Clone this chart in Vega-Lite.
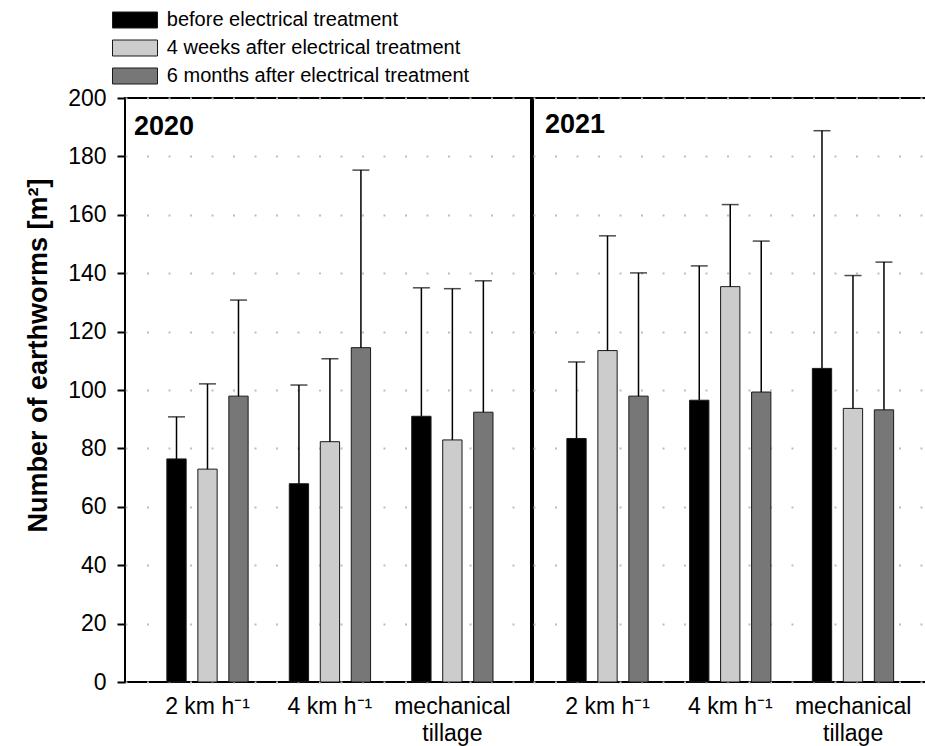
{
  "$schema": "https://vega.github.io/schema/vega-lite/v6.json",
  "autosize": {"type": "pad"},
  "padding": {"left": 22, "top": 10, "right": 0, "bottom": 0},
  "background": "white",
  "config": {
    "font": "Liberation Sans",
    "view": {"stroke": "black", "strokeWidth": 2},
    "concat": {"spacing": 0},
    "axis": {"labelColor": "black", "labelFont": "Liberation Sans"}
  },
  "data": {
    "values": [
      {"year": 2020, "treatment": "2 km h⁻¹", "period": "before electrical treatment", "value": 76.4, "upper": 90.8},
      {"year": 2020, "treatment": "2 km h⁻¹", "period": "4 weeks after electrical treatment", "value": 72.9, "upper": 102.1},
      {"year": 2020, "treatment": "2 km h⁻¹", "period": "6 months after electrical treatment", "value": 97.9, "upper": 130.8},
      {"year": 2020, "treatment": "4 km h⁻¹", "period": "before electrical treatment", "value": 67.9, "upper": 101.7},
      {"year": 2020, "treatment": "4 km h⁻¹", "period": "4 weeks after electrical treatment", "value": 82.3, "upper": 110.7},
      {"year": 2020, "treatment": "4 km h⁻¹", "period": "6 months after electrical treatment", "value": 114.5, "upper": 175.3},
      {"year": 2020, "treatment": "mechanical tillage", "period": "before electrical treatment", "value": 91.0, "upper": 135.0},
      {"year": 2020, "treatment": "mechanical tillage", "period": "4 weeks after electrical treatment", "value": 82.9, "upper": 134.7},
      {"year": 2020, "treatment": "mechanical tillage", "period": "6 months after electrical treatment", "value": 92.4, "upper": 137.4},
      {"year": 2021, "treatment": "2 km h⁻¹", "period": "before electrical treatment", "value": 83.4, "upper": 109.6},
      {"year": 2021, "treatment": "2 km h⁻¹", "period": "4 weeks after electrical treatment", "value": 113.5, "upper": 152.8},
      {"year": 2021, "treatment": "2 km h⁻¹", "period": "6 months after electrical treatment", "value": 97.9, "upper": 140.1},
      {"year": 2021, "treatment": "4 km h⁻¹", "period": "before electrical treatment", "value": 96.5, "upper": 142.5},
      {"year": 2021, "treatment": "4 km h⁻¹", "period": "4 weeks after electrical treatment", "value": 135.4, "upper": 163.5},
      {"year": 2021, "treatment": "4 km h⁻¹", "period": "6 months after electrical treatment", "value": 99.3, "upper": 151.0},
      {"year": 2021, "treatment": "mechanical tillage", "period": "before electrical treatment", "value": 107.4, "upper": 188.8},
      {"year": 2021, "treatment": "mechanical tillage", "period": "4 weeks after electrical treatment", "value": 93.7, "upper": 139.2},
      {"year": 2021, "treatment": "mechanical tillage", "period": "6 months after electrical treatment", "value": 93.2, "upper": 143.8}
    ]
  },
  "hconcat": [
    {
      "width": 406,
      "height": 584,
      "title": {"text": "2020", "anchor": "start", "frame": "group", "dx": 9, "dy": 58, "fontSize": 27, "fontWeight": "bold", "color": "black", "font": "Liberation Sans"},
      "transform": [{"filter": "datum.year == 2020"}],
      "encoding": {
        "x": {
          "field": "treatment", "type": "nominal",
          "sort": ["2 km h⁻¹", "4 km h⁻¹", "mechanical tillage"],
          "scale": {"paddingInner": 0, "paddingOuter": 0.158, "align": 0.55},
          "axis": {"title": null, "ticks": false, "domain": false, "labelAngle": 0, "labelPadding": 13, "labelFontSize": 23, "labelLineHeight": 27, "labelBaseline": "top",
            "labelExpr": "datum.value == 'mechanical tillage' ? ['mechanical', 'tillage'] : datum.value"}
        },
        "xOffset": {"field": "period", "type": "nominal",
          "sort": ["before electrical treatment", "4 weeks after electrical treatment", "6 months after electrical treatment"],
          "scale": {"paddingInner": 0.377, "paddingOuter": 0.664}}
      },
      "layer": [
        {
          "mark": {"type": "bar", "stroke": "#1a1a1a", "strokeWidth": 1},
          "encoding": {
            "y": {"field": "value", "type": "quantitative",
              "scale": {"domain": [0, 200]},
              "axis": {"title": "Number of earthworms [m²]", "values": [0, 20, 40, 60, 80, 100, 120, 140, 160, 180, 200],
                "domain": false, "ticks": true, "tickSize": 8, "tickColor": "black", "tickWidth": 2,
                "labelFontSize": 23, "labelPadding": 11,
                "grid": true, "gridColor": "#bdbdbd", "gridDash": [2, 19.5], "gridWidth": 2,
                "titleFontSize": 27, "titleFontWeight": "bold", "titleColor": "black", "titleFont": "Liberation Sans",
                "titleAngle": 270, "titleBaseline": "alphabetic", "titleAlign": "center", "titleX": -79, "titleY": 257}},
            "color": {"field": "period", "type": "nominal",
              "sort": ["before electrical treatment", "4 weeks after electrical treatment", "6 months after electrical treatment"],
              "scale": {"domain": ["before electrical treatment", "4 weeks after electrical treatment", "6 months after electrical treatment"], "range": ["#000000", "#cccccc", "#777777"]},
              "legend": {"title": null, "orient": "none", "legendX": 0, "legendY": -88, "padding": 0,
                "symbolType": "M-2.8125,-1L2.8125,-1L2.8125,1L-2.8125,1Z", "symbolSize": 256,
                "symbolStrokeColor": "#1a1a1a", "symbolStrokeWidth": 1, "symbolOpacity": 1,
                "labelFont": "Liberation Sans", "labelFontSize": 20, "labelColor": "black", "labelOffset": 21.8, "rowPadding": 8, "labelLimit": 600}}
          }
        },
        {
          "mark": {"type": "rule", "color": "black", "strokeWidth": 1.5},
          "encoding": {"y": {"field": "value", "type": "quantitative"}, "y2": {"field": "upper"}}
        },
        {
          "mark": {"type": "tick", "color": "black", "thickness": 1.5, "size": 17},
          "encoding": {"y": {"field": "upper", "type": "quantitative"}}
        }
      ]
    },
    {
      "width": 393,
      "height": 584,
      "title": {"text": "2021", "anchor": "start", "frame": "group", "dx": 12, "dy": 45, "fontSize": 27, "fontWeight": "bold", "color": "black", "font": "Liberation Sans"},
      "transform": [{"filter": "datum.year == 2021"}],
      "encoding": {
        "x": {
          "field": "treatment", "type": "nominal",
          "sort": ["2 km h⁻¹", "4 km h⁻¹", "mechanical tillage"],
          "scale": {"paddingInner": 0, "paddingOuter": 0.101, "align": 0.536},
          "axis": {"title": null, "ticks": false, "domain": false, "labelAngle": 0, "labelPadding": 13, "labelFontSize": 23, "labelLineHeight": 27, "labelBaseline": "top",
            "labelExpr": "datum.value == 'mechanical tillage' ? ['mechanical', 'tillage'] : datum.value"}
        },
        "xOffset": {"field": "period", "type": "nominal",
          "sort": ["before electrical treatment", "4 weeks after electrical treatment", "6 months after electrical treatment"],
          "scale": {"paddingInner": 0.377, "paddingOuter": 0.664}}
      },
      "layer": [
        {
          "mark": {"type": "bar", "stroke": "#1a1a1a", "strokeWidth": 1},
          "encoding": {
            "y": {"field": "value", "type": "quantitative",
              "scale": {"domain": [0, 200]},
              "axis": {"title": null, "values": [0, 20, 40, 60, 80, 100, 120, 140, 160, 180, 200],
                "domain": false, "ticks": false, "labels": false,
                "grid": true, "gridColor": "#bdbdbd", "gridDash": [2, 19.5], "gridWidth": 2}},
            "color": {"field": "period", "type": "nominal",
              "sort": ["before electrical treatment", "4 weeks after electrical treatment", "6 months after electrical treatment"],
              "scale": {"domain": ["before electrical treatment", "4 weeks after electrical treatment", "6 months after electrical treatment"], "range": ["#000000", "#cccccc", "#777777"]},
              "legend": null}
          }
        },
        {
          "mark": {"type": "rule", "color": "black", "strokeWidth": 1.5},
          "encoding": {"y": {"field": "value", "type": "quantitative"}, "y2": {"field": "upper"}}
        },
        {
          "mark": {"type": "tick", "color": "black", "thickness": 1.5, "size": 17},
          "encoding": {"y": {"field": "upper", "type": "quantitative"}}
        }
      ]
    }
  ]
}
